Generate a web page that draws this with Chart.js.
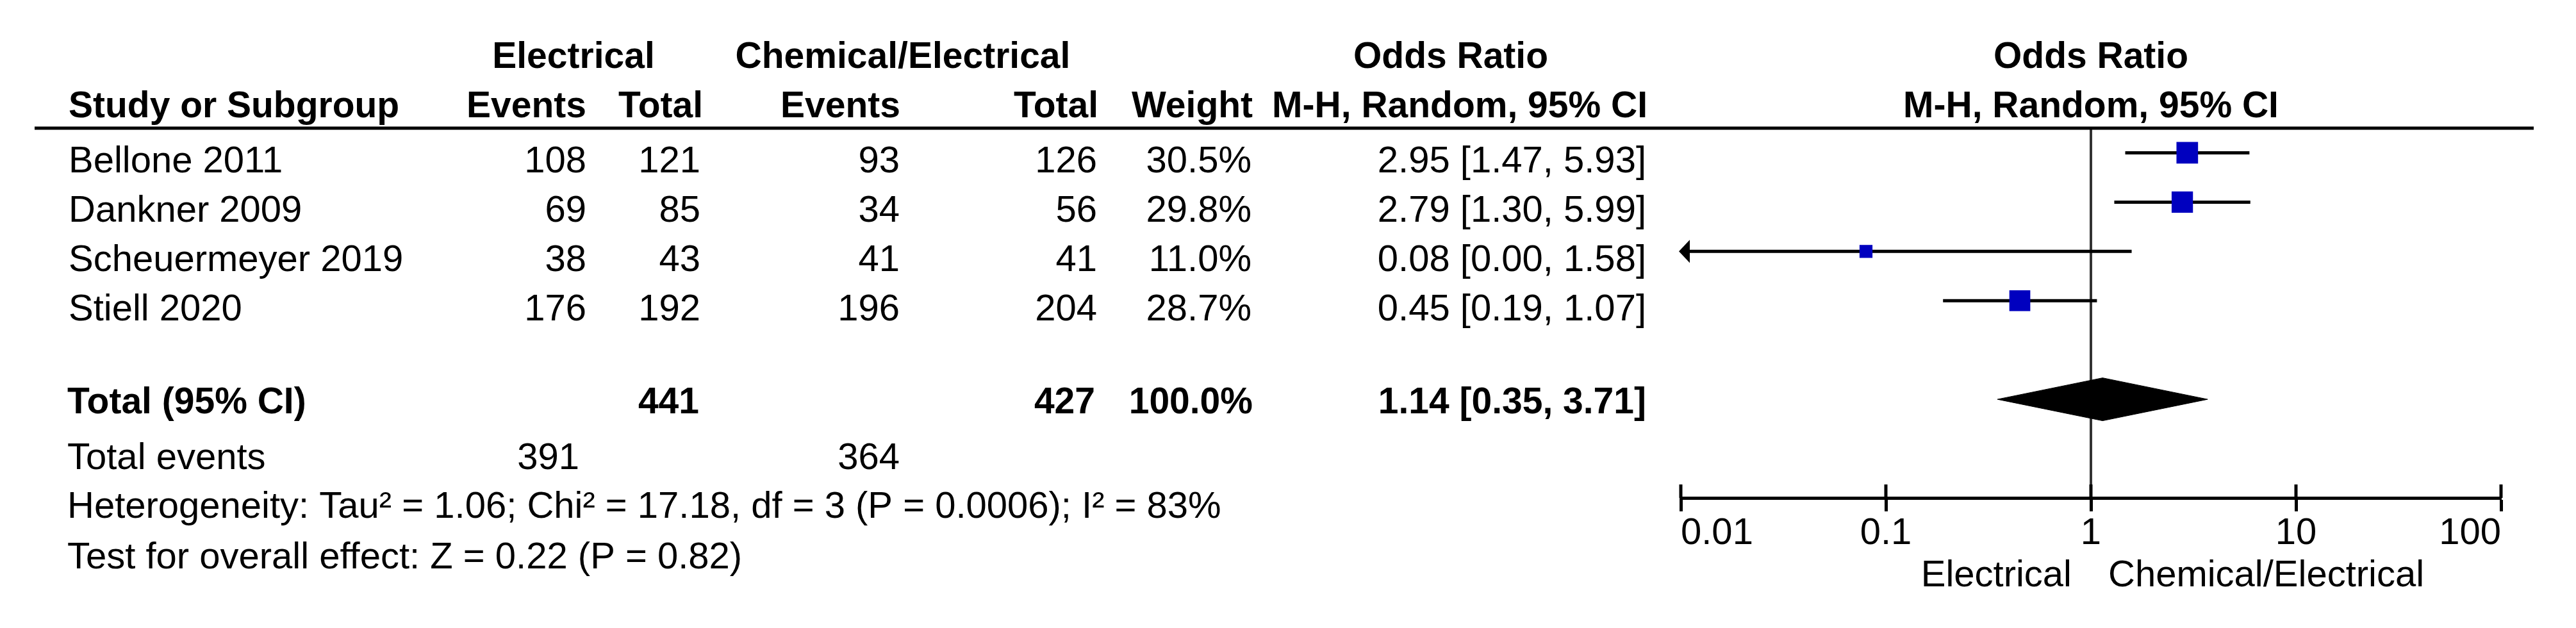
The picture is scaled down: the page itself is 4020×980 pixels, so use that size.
<!DOCTYPE html>
<html>
<head>
<meta charset="utf-8">
<script src="https://cdn.jsdelivr.net/npm/chart.js@4.4.1/dist/chart.umd.min.js"></script>
<style>
  html, body { margin: 0; padding: 0; background: #fff; }
</style>
</head>
<body>
<canvas id="forest" width="4020" height="980"></canvas>
<script>
// Study data
const studies = ['Bellone 2011', 'Dankner 2009', 'Scheuermeyer 2019', 'Stiell 2020'];
const elecEvents = [108, 69, 38, 176];
const elecTotal = [121, 85, 43, 192];
const chemEvents = [93, 34, 41, 196];
const chemTotal = [126, 56, 41, 204];
const weights = [30.5, 29.8, 11.0, 28.7];
const orValues = [2.95, 2.79, 0.08, 0.45];
const ciLow = [1.47, 1.30, 0.00, 0.19];
const ciHigh = [5.93, 5.99, 1.58, 1.07];

// Pooled
const pooledOR = 1.14;
const pooledLow = 0.35;
const pooledHigh = 3.71;
const totalElec = 441;
const totalChem = 427;
const totalElecEvents = 391;
const totalChemEvents = 364;
const heterogeneity = 'Heterogeneity: Tau² = 1.06; Chi² = 17.18, df = 3 (P = 0.0006); I² = 83%';
const overallEffect = 'Test for overall effect: Z = 0.22 (P = 0.82)';

// Axis
const tickValues = [0.01, 0.1, 1, 10, 100];
const tickLabels = ['0.01', '0.1', '1', '10', '100'];
const X_MIN = 0.01, X_MAX = 100;
const TOTAL_ROW = 6;

const FONT = '"Liberation Sans", Arial, sans-serif';
const FS = 58;      // regular text
const FS_BOLD = 57; // headers

function txt(ctx, s, x, y, align, bold) {
    ctx.font = bold ? 'bold ' + FS_BOLD + 'px ' + FONT : FS + 'px ' + FONT;
    ctx.textAlign = align;
    ctx.fillText(s, x, y);
}

const fmt = v => v.toFixed(2);

// Lines / text around the plot
const forestPlugin = {
    id: 'forestPlugin',
    beforeDatasetsDraw(chart) {
        const { ctx, chartArea, scales: { x } } = chart;
        const x1 = x.getPixelForValue(1);
        ctx.save();
        ctx.strokeStyle = '#333';
        ctx.lineWidth = 4;
        ctx.beginPath();
        ctx.moveTo(x1, chartArea.top);
        ctx.lineTo(x1, chartArea.bottom - 20);
        ctx.stroke();
        ctx.restore();
    },
    afterDraw(chart) {
        const { ctx, chartArea, scales: { x, y } } = chart;
        ctx.save();
        ctx.fillStyle = '#000';
        ctx.strokeStyle = '#000';

        // header rule
        ctx.lineWidth = 5;
        ctx.beginPath();
        ctx.moveTo(54, chartArea.top);
        ctx.lineTo(chartArea.right + 51, chartArea.top);
        ctx.stroke();

        // tick stubs above the axis
        tickValues.forEach(v => {
            const px = x.getPixelForValue(v);
            ctx.beginPath();
            ctx.moveTo(px, chartArea.bottom - 21);
            ctx.lineTo(px, chartArea.bottom);
            ctx.stroke();
        });

        // arrows for clipped CIs
        studies.forEach((s, i) => {
            if (ciLow[i] < X_MIN) {
                const px = x.getPixelForValue(X_MIN);
                const py = y.getPixelForValue(i + 1);
                ctx.beginPath();
                ctx.moveTo(px - 3, py);
                ctx.lineTo(px + 14, py - 18);
                ctx.lineTo(px + 14, py + 18);
                ctx.closePath();
                ctx.fill();
            }
        });

        ctx.textBaseline = 'alphabetic';
        const xc = (chartArea.left + chartArea.right) / 2;

        // headers
        txt(ctx, 'Electrical', 895, 106, 'center', true);
        txt(ctx, 'Chemical/Electrical', 1409, 106, 'center', true);
        txt(ctx, 'Odds Ratio', 2264, 106, 'center', true);
        txt(ctx, 'Odds Ratio', xc, 106, 'center', true);

        txt(ctx, 'Study or Subgroup', 107, 183, 'left', true);
        txt(ctx, 'Events', 915, 183, 'right', true);
        txt(ctx, 'Total', 1097, 183, 'right', true);
        txt(ctx, 'Events', 1405, 183, 'right', true);
        txt(ctx, 'Total', 1714, 183, 'right', true);
        txt(ctx, 'Weight', 1955, 183, 'right', true);
        txt(ctx, 'M-H, Random, 95% CI', 2571, 183, 'right', true);
        txt(ctx, 'M-H, Random, 95% CI', xc, 183, 'center', true);

        // study rows
        studies.forEach((s, i) => {
            const by = y.getPixelForValue(i + 1) + 31;
            txt(ctx, s, 107, by, 'left', false);
            txt(ctx, String(elecEvents[i]), 915, by, 'right', false);
            txt(ctx, String(elecTotal[i]), 1093, by, 'right', false);
            txt(ctx, String(chemEvents[i]), 1404, by, 'right', false);
            txt(ctx, String(chemTotal[i]), 1712, by, 'right', false);
            txt(ctx, weights[i].toFixed(1) + '%', 1953, by, 'right', false);
            txt(ctx, `${fmt(orValues[i])} [${fmt(ciLow[i])}, ${fmt(ciHigh[i])}]`, 2569, by, 'right', false);
        });

        // total row
        const ty = y.getPixelForValue(TOTAL_ROW) + 22;
        txt(ctx, 'Total (95% CI)', 105, ty, 'left', true);
        txt(ctx, String(totalElec), 1091, ty, 'right', true);
        txt(ctx, String(totalChem), 1709, ty, 'right', true);
        txt(ctx, '100.0%', 1955, ty, 'right', true);
        txt(ctx, `${fmt(pooledOR)} [${fmt(pooledLow)}, ${fmt(pooledHigh)}]`, 2569, ty, 'right', true);

        txt(ctx, 'Total events', 105, 732, 'left', false);
        txt(ctx, String(totalElecEvents), 904, 732, 'right', false);
        txt(ctx, String(totalChemEvents), 1404, 732, 'right', false);
        txt(ctx, heterogeneity, 105, 808, 'left', false);
        txt(ctx, overallEffect, 105, 887, 'left', false);

        // favours labels
        const x1 = x.getPixelForValue(1);
        txt(ctx, 'Electrical', x1 - 30, 915, 'right', false);
        txt(ctx, 'Chemical/Electrical', x1 + 27, 915, 'left', false);

        ctx.restore();
    }
};

const ciSets = studies.map((s, i) => ({
    label: s,
    data: [{ x: Math.max(ciLow[i], X_MIN), y: i + 1 }, { x: ciHigh[i], y: i + 1 }],
    borderColor: '#000',
    borderWidth: 5,
    pointRadius: 0,
    showLine: true,
    fill: false,
    order: 3
}));

const squareSet = {
    label: 'Odds Ratio',
    data: studies.map((s, i) => ({ x: orValues[i], y: i + 1 })),
    showLine: false,
    pointStyle: 'rect',
    // square side grows with sqrt(weight)
    pointRadius: weights.map(w => 6.1 * Math.sqrt(w) / Math.SQRT2),
    pointBackgroundColor: '#0000BF',
    pointBorderWidth: 0,
    order: 1
};

const DIAMOND_H = 0.435;
const diamondSet = {
    label: 'Total',
    data: [
        { x: pooledLow, y: TOTAL_ROW },
        { x: pooledOR, y: TOTAL_ROW - DIAMOND_H },
        { x: pooledHigh, y: TOTAL_ROW },
        { x: pooledOR, y: TOTAL_ROW + DIAMOND_H },
        { x: pooledLow, y: TOTAL_ROW }
    ],
    borderColor: '#000',
    borderWidth: 1,
    backgroundColor: '#000',
    fill: 'shape',
    pointRadius: 0,
    tension: 0,
    showLine: true,
    order: 2
};

new Chart(document.getElementById('forest'), {
    type: 'line',
    data: { datasets: [...ciSets, squareSet, diamondSet] },
    options: {
        responsive: false,
        devicePixelRatio: 1,
        animation: false,
        layout: { padding: { left: 2623, right: 117, top: 200, bottom: 0 } },
        plugins: { legend: { display: false }, tooltip: { enabled: false } },
        scales: {
            x: {
                type: 'logarithmic',
                position: 'bottom',
                min: X_MIN,
                max: X_MAX,
                afterBuildTicks: s => { s.ticks = tickValues.map(v => ({ value: v })); },
                afterFit: s => { s.height = 980 - 777; },
                border: { display: true, color: '#000', width: 5 },
                grid: { drawOnChartArea: false, drawTicks: true, tickLength: 21, tickWidth: 5, tickColor: '#000' },
                ticks: {
                    align: 'inner',
                    padding: 0,
                    color: '#000',
                    autoSkip: false,
                    maxRotation: 0,
                    font: { family: FONT, size: FS },
                    callback: (v, i) => tickLabels[i]
                }
            },
            y: {
                type: 'linear',
                display: false,
                reverse: true,
                min: 0.5,
                max: 8
            }
        }
    },
    plugins: [forestPlugin]
});
</script>
</body>
</html>
